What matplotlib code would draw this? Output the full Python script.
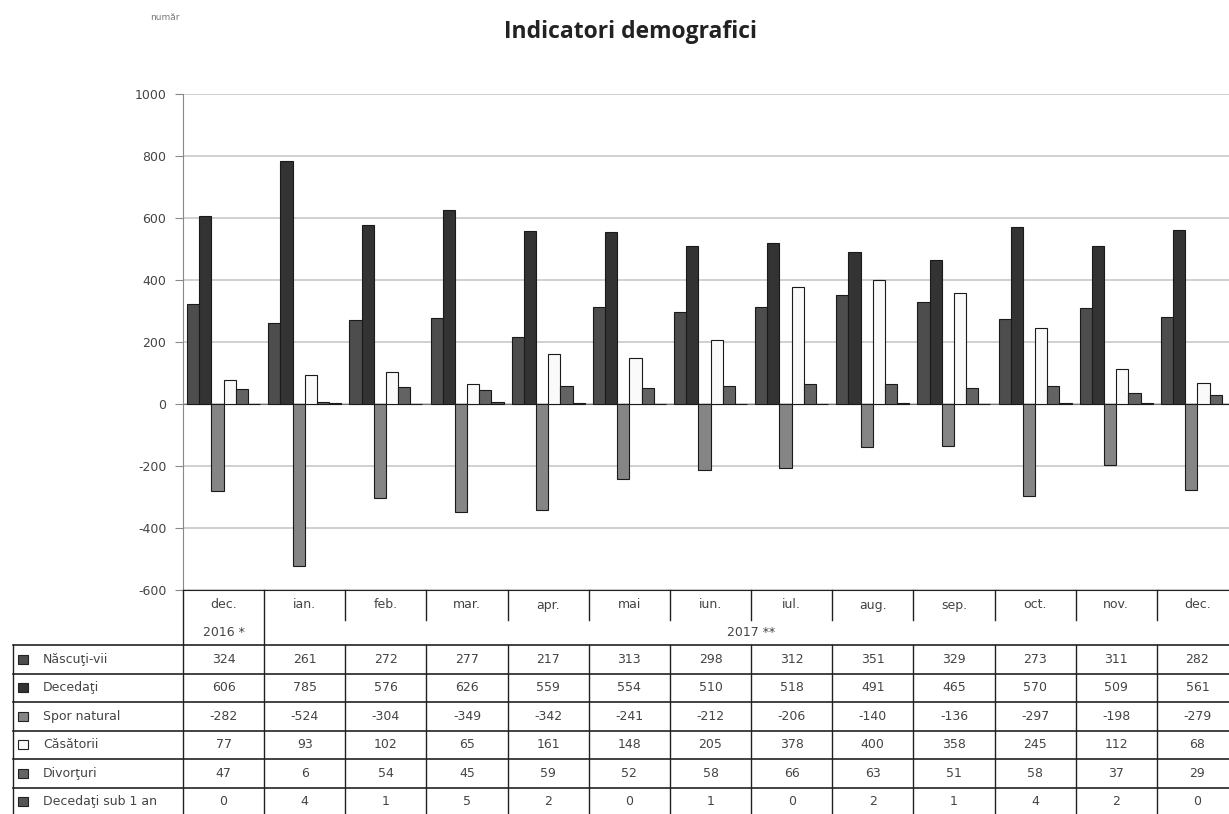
#Import needed library
import matplotlib
matplotlib.use("Agg")
import matplotlib.pyplot as plt
import numpy as np

#Data
months = ["dec.", "ian.", "feb.", "mar.", "apr.", "mai", "iun.", "iul.",
          "aug.", "sep.", "oct.", "nov.", "dec."]
series_names = ["Născuţi-vii", "Decedaţi", "Spor natural", "Căsătorii",
                "Divorţuri", "Decedaţi sub 1 an"]
nascuti = [324, 261, 272, 277, 217, 313, 298, 312, 351, 329, 273, 311, 282]
decedati = [606, 785, 576, 626, 559, 554, 510, 518, 491, 465, 570, 509, 561]
spor = [-282, -524, -304, -349, -342, -241, -212, -206, -140, -136, -297, -198, -279]
casatorii = [77, 93, 102, 65, 161, 148, 205, 378, 400, 358, 245, 112, 68]
divorturi = [47, 6, 54, 45, 59, 52, 58, 66, 63, 51, 58, 37, 29]
sub1an = [0, 4, 1, 5, 2, 0, 1, 0, 2, 1, 4, 2, 0]
y_ticks = [-600, -400, -200, 0, 200, 400, 600, 800, 1000]

series = [nascuti, decedati, spor, casatorii, divorturi, sub1an]
colors = ["#4d4d4d", "#333333", "#858585", "#fafafa", "#636363", "#555555"]

#Figure in pixels
W, H = 1229, 814
fig = plt.figure(figsize=(W / 100, H / 100), dpi=100)

#Plot area position (pixels)
x0, x1 = 183, 1238
y_top, y_bot = 94, 590
ax = fig.add_axes([x0 / W, 1 - y_bot / H, (x1 - x0) / W, (y_bot - y_top) / H])

n = len(months)
x = np.arange(n)
bw = 0.15
for i, vals in enumerate(series):
    ax.bar(x + (i - 2.5) * bw, vals, width=bw, color=colors[i],
           edgecolor="#1a1a1a", linewidth=0.8, zorder=3)

ax.set_xlim(-0.5, n - 0.5)
ax.set_ylim(-600, 1000)
ax.set_yticks(y_ticks)
ax.set_yticklabels([str(v) for v in y_ticks], fontsize=9, color="#444444")
ax.set_xticks([])
ax.grid(axis="y", color="#c8c8c8", linewidth=1.2, zorder=0)
ax.axhline(0, color="#777777", linewidth=0.8, zorder=2)
for s in ["top", "right"]:
    ax.spines[s].set_visible(False)
ax.spines["left"].set_color("#888888")
ax.spines["bottom"].set_color("#222222")
ax.tick_params(axis="y", length=6, color="#888888", pad=6)

#Title and unit label
fig.text(630 / W, 1 - 32 / H, "Indicatori demografici", ha="center", va="center",
         fontsize=16.5, fontweight="bold", family="Open Sans", color="#222222")
fig.text(165 / W, 1 - 17 / H, "număr", ha="center", va="center",
         fontsize=6.5, color="#777777")

#Table below the chart, drawn in pixel coordinates
tab = fig.add_axes([0, 0, 1, 1])
tab.set_xlim(0, W)
tab.set_ylim(H, 0)
tab.axis("off")

col_w = (x1 - x0) / n
col_edges = [x0 + col_w * k for k in range(n + 1)]
lc = "#222222"
tc = "#444444"
fs = 9

#Header lines
for k, xe in enumerate(col_edges):
    if k <= 1:
        tab.plot([xe, xe], [590, 645], color=lc, lw=1)
    else:
        tab.plot([xe, xe], [590, 620], color=lc, lw=1)
for k, m in enumerate(months):
    tab.text(col_edges[k] + col_w / 2, 605, m, ha="center", va="center",
             fontsize=fs, color=tc)
tab.text(col_edges[0] + col_w / 2, 633, "2016 *", ha="center", va="center",
         fontsize=fs, color=tc)
tab.text((col_edges[1] + col_edges[-1]) / 2, 633, "2017 **", ha="center",
         va="center", fontsize=fs, color=tc)

#Data rows
row_top = 645
row_h = 28.5
n_rows = len(series)
row_lines = [row_top + row_h * r for r in range(n_rows + 1)]
for yl in row_lines:
    tab.plot([13, x1], [yl, yl], color=lc, lw=1.2)
for xe in [13] + col_edges:
    tab.plot([xe, xe], [row_top, row_lines[-1]], color=lc, lw=1)

for r, (name, vals) in enumerate(zip(series_names, series)):
    yc = row_top + row_h * (r + 0.5)
    tab.add_patch(plt.Rectangle((18, yc - 4.5), 10, 9, facecolor=colors[r],
                                edgecolor="#222222", lw=0.8))
    tab.text(43, yc, name, ha="left", va="center", fontsize=fs, color=tc)
    for k, v in enumerate(vals):
        tab.text(col_edges[k] + col_w / 2, yc, str(v), ha="center", va="center",
                 fontsize=fs, color=tc)

fig.savefig("out.png", dpi=100)
